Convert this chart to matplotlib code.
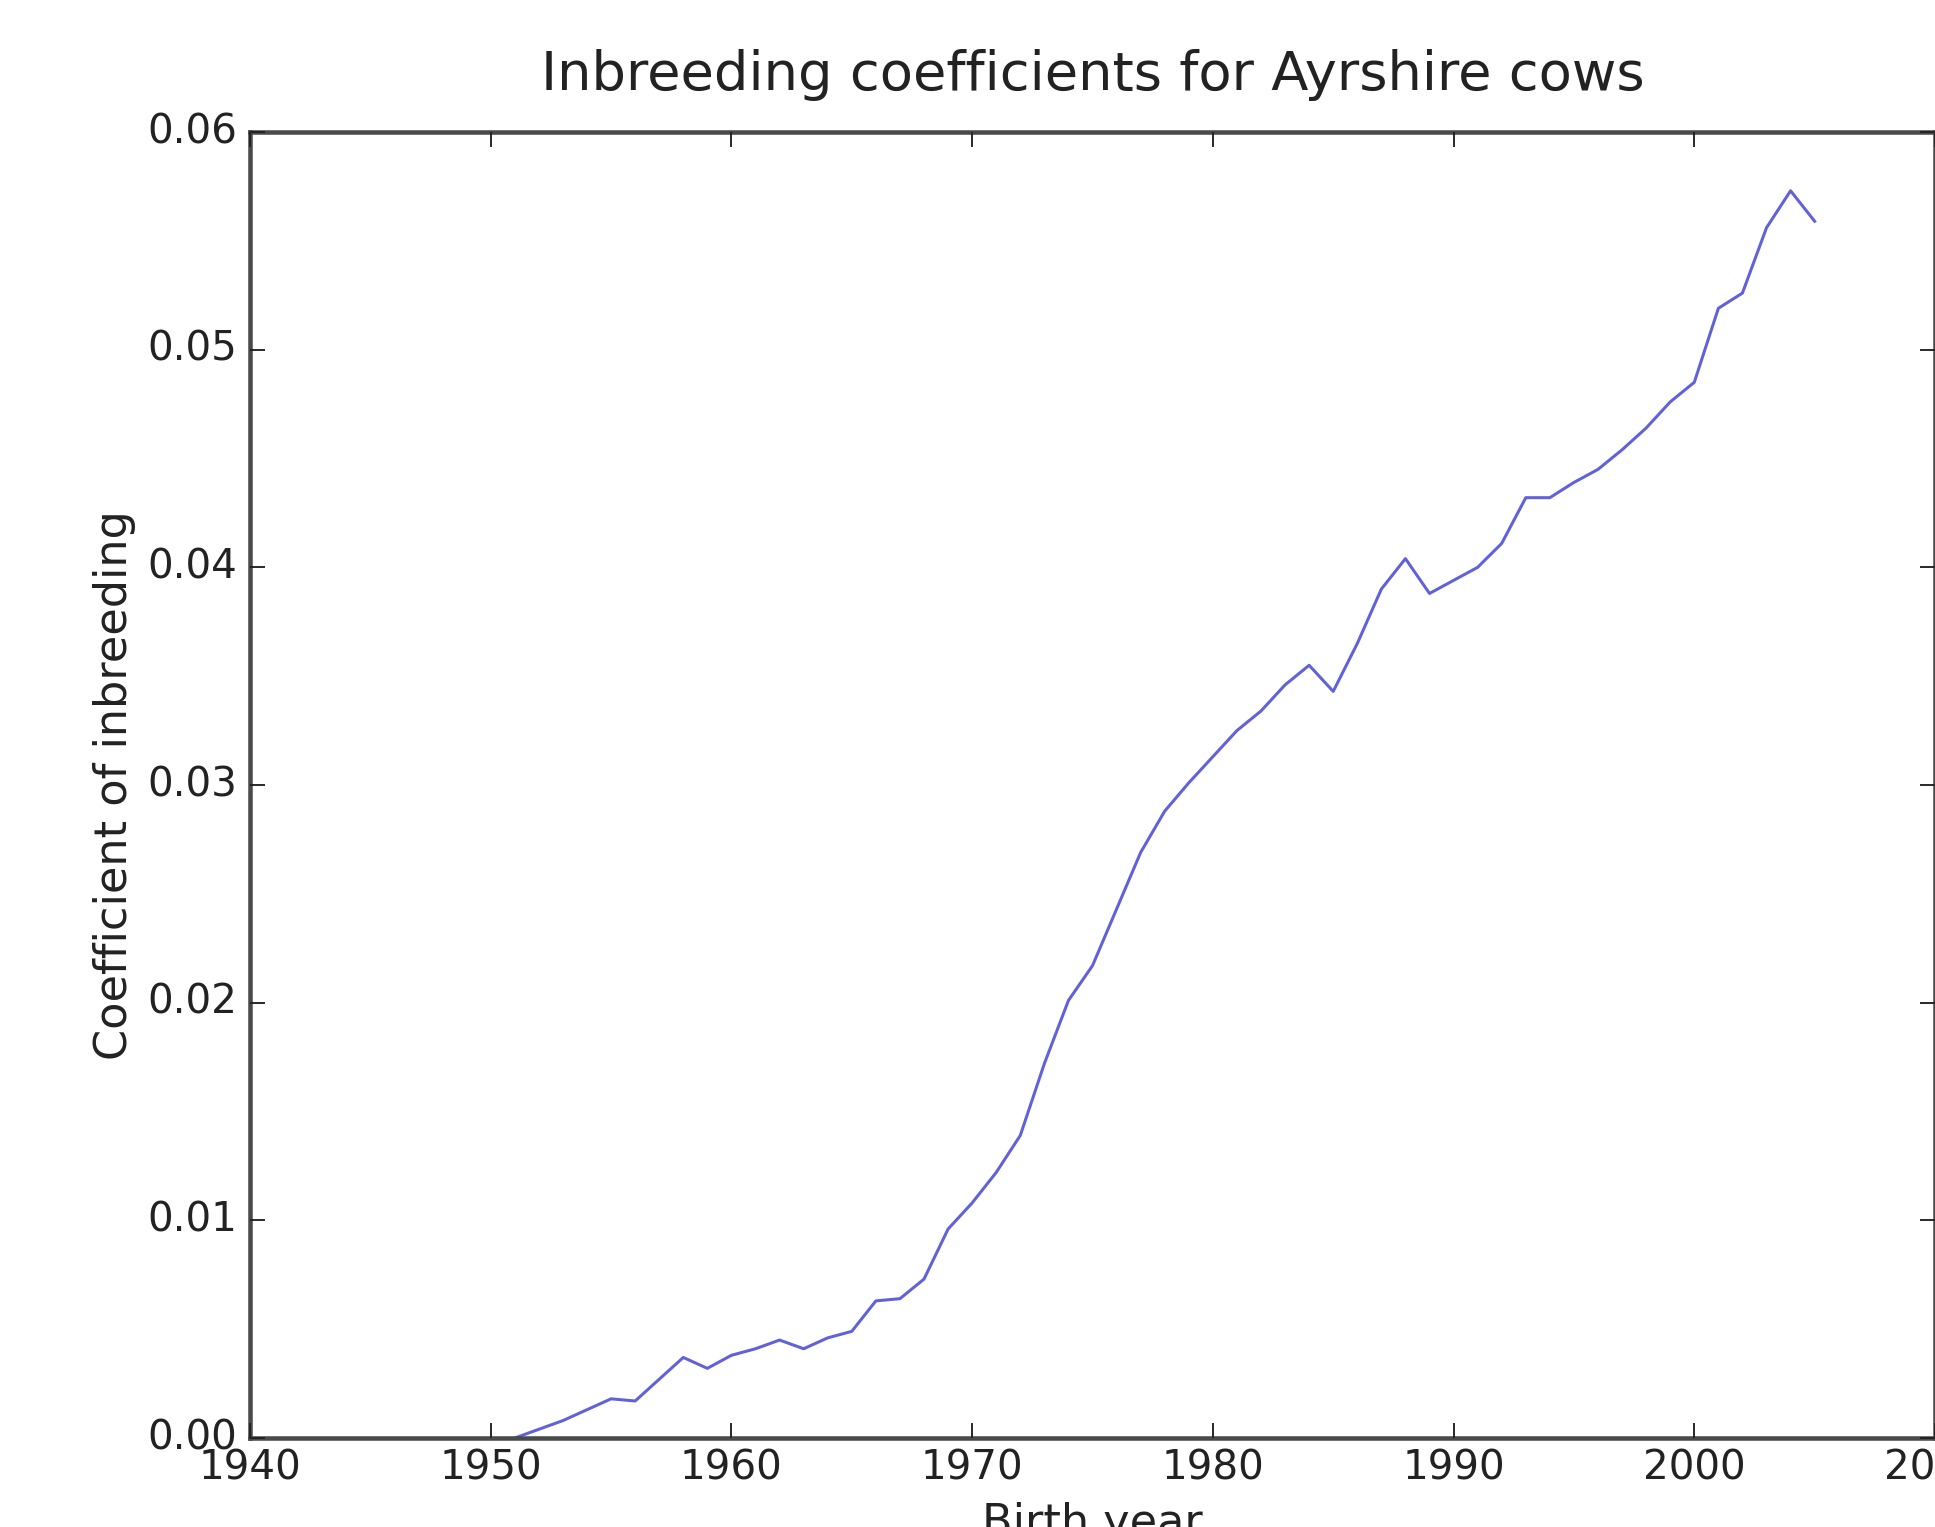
import numpy as np
import matplotlib
matplotlib.use('Agg')
from matplotlib import pyplot as plt
from matplotlib.ticker import FormatStrFormatter

# birth years and mean inbreeding coefficient
years = [1951, 1952, 1953, 1954, 1955, 1956, 1957, 1958, 1959, 1960,
         1961, 1962, 1963, 1964, 1965, 1966, 1967, 1968, 1969, 1970,
         1971, 1972, 1973, 1974, 1975, 1976, 1977, 1978, 1979, 1980,
         1981, 1982, 1983, 1984, 1985, 1986, 1987, 1988, 1989, 1990,
         1991, 1992, 1993, 1994, 1995, 1996, 1997, 1998, 1999, 2000,
         2001, 2002, 2003, 2004, 2005]
inbreeding = [0.0000, 0.0004, 0.0008, 0.0013, 0.0018, 0.0017, 0.0027, 0.0037, 0.0032, 0.0038,
              0.0041, 0.0045, 0.0041, 0.0046, 0.0049, 0.0063, 0.0064, 0.0073, 0.0096, 0.0108,
              0.0122, 0.0139, 0.0172, 0.0201, 0.0217, 0.0243, 0.0269, 0.0288, 0.0301, 0.0313,
              0.0325, 0.0334, 0.0346, 0.0355, 0.0343, 0.0365, 0.0390, 0.0404, 0.0388, 0.0394,
              0.0400, 0.0411, 0.0432, 0.0432, 0.0439, 0.0445, 0.0454, 0.0464, 0.0476, 0.0485,
              0.0519, 0.0526, 0.0556, 0.0573, 0.0559]

xticks = [1940, 1950, 1960, 1970, 1980, 1990, 2000, 2010]
yticks = [0.00, 0.01, 0.02, 0.03, 0.04, 0.05, 0.06]

plt.style.use('classic')
dpi = 272
fig = plt.figure(figsize=(1935 / dpi, 1527 / dpi), dpi=dpi, facecolor='white')
# axes placed so the figure looks cropped on the right and bottom like the reference
ax = fig.add_axes([250 / 1935, 1 - 1438 / 1527, 1685 / 1935, 1306 / 1527])

ax.plot(years, inbreeding, color=(0.38, 0.38, 0.85), linewidth=0.8)

ax.set_xlim(1940, 2010)
ax.set_ylim(0, 0.06)
ax.set_xticks(xticks)
ax.set_yticks(yticks)
ax.xaxis.set_major_formatter(FormatStrFormatter('%d'))
ax.yaxis.set_major_formatter(FormatStrFormatter('%.2f'))

for s in ax.spines.values():
    s.set_color('#4a4a4a')
    s.set_linewidth(1.2)
ax.tick_params(colors='#222222', labelcolor='#222222', labelsize=10.7)
ax.tick_params(axis='x', pad=2.8)
ax.tick_params(axis='y', pad=3.5)

ax.set_title('Inbreeding coefficients for Ayrshire cows', color='#222222', pad=11)
ax.set_xlabel('Birth year', color='#222222', fontsize=11.8, labelpad=3.5)
ax.set_ylabel('Coefficient of inbreeding', color='#222222', fontsize=11.8, labelpad=3)

fig.savefig('out.png', dpi=dpi, facecolor='white')
